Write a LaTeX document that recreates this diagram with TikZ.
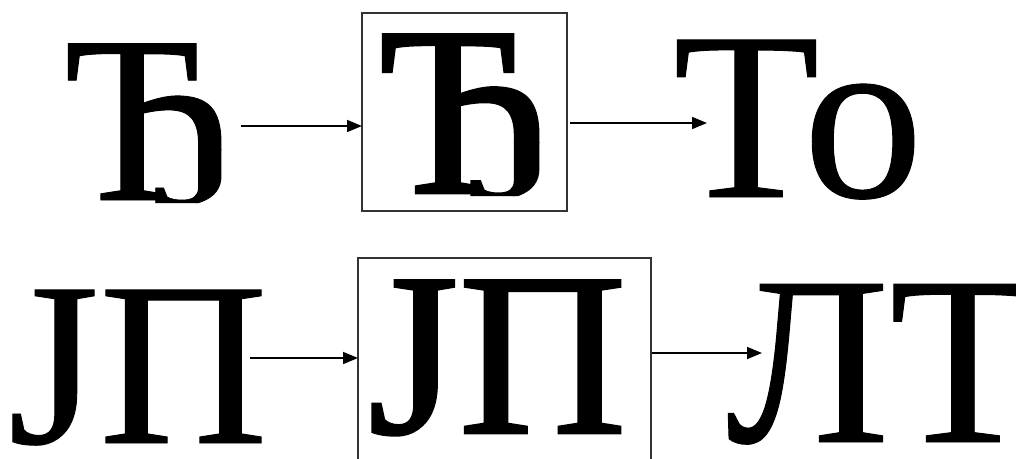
\documentclass[tikz,border=0pt]{standalone}
\usepackage{fontspec}
\setmainfont{Liberation Serif}
\usetikzlibrary{arrows.meta}
\begin{document}
\begin{tikzpicture}[x=1pt,y=-1pt,
  glyph/.style={inner sep=0pt, outer sep=0pt, anchor=base west, text depth=0pt},
  frame/.style={draw=black!80, line width=1.6pt, inner sep=0pt, outer sep=0pt},
  arr/.style={-{Triangle[length=15pt,width=12pt]}, line width=1.6pt}]
\useasboundingbox (0,0) rectangle (1016,458);
% row 1: the letter, with its lower bowl compressed so that the hook sits on the baseline
\begin{scope}
\clip (0,0) rectangle (300,150) (0,150) rectangle (170,202);
\node[glyph, font=\fontsize{239}{239}\selectfont\addfontfeatures{FakeBold=0.4}] (g1) at (64,200) {Ђ};
\end{scope}
\begin{scope}
\clip (170,149) rectangle (300,203) (142,184) rectangle (171,203);
\begin{scope}[shift={(0,150)}, yscale=0.55, shift={(0,-150)}, transform shape]
\node[glyph, font=\fontsize{239}{239}\selectfont\addfontfeatures{FakeBold=0.4}] (g1b) at (64,200) {Ђ};
\end{scope}
\end{scope}
\node[frame, minimum width=205pt, minimum height=198pt] (b1) at (464.5,112) {};
\begin{scope}
\clip (362,13) rectangle (567,143) (362,143) rectangle (485,195);
\node[glyph, font=\fontsize{242}{242}\selectfont\addfontfeatures{FakeBold=1.2}] (t1) at (379,193) {Ђ};
\end{scope}
\begin{scope}
\clip (485,142) rectangle (567,196) (457,177) rectangle (486,196);
\begin{scope}[shift={(0,143)}, yscale=0.55, shift={(0,-143)}, transform shape]
\node[glyph, font=\fontsize{242}{242}\selectfont\addfontfeatures{FakeBold=1.2}] (t1b) at (379,193) {Ђ};
\end{scope}
\end{scope}
\node[glyph, font=\fontsize{240}{240}\selectfont\addfontfeatures{FakeBold=0.4}] (o1) at (673,197) {To};
\draw[arr] ([xshift=-3pt]g1.east |- 0,126) -- (b1.west |- 0,126);
\draw[arr] ([xshift=3pt]b1.east |- 0,123) -- ([xshift=34pt]o1.west |- 0,123);
% row 2
\node[glyph, font=\fontsize{234}{234}\selectfont\addfontfeatures{FakeBold=0.4}] (g2) at (8,443) {ЈП};
\node[frame, minimum width=293pt, minimum height=212pt] (b2) at (504.5,364) {};
\node[glyph, font=\fontsize{233}{233}\selectfont\addfontfeatures{FakeBold=1.2}] (t2) at (368,433) {ЈП};
\node[glyph, font=\fontsize{241}{241}\selectfont\addfontfeatures{FakeBold=0.4}] (o2) at (726,442) {ЛТ};
\draw[arr] ([xshift=-18pt]g2.east |- 0,358) -- (b2.west |- 0,358);
\draw[arr] ([xshift=1pt]b2.east |- 0,353) -- ([xshift=36pt]o2.west |- 0,353);
\end{tikzpicture}
\end{document}
